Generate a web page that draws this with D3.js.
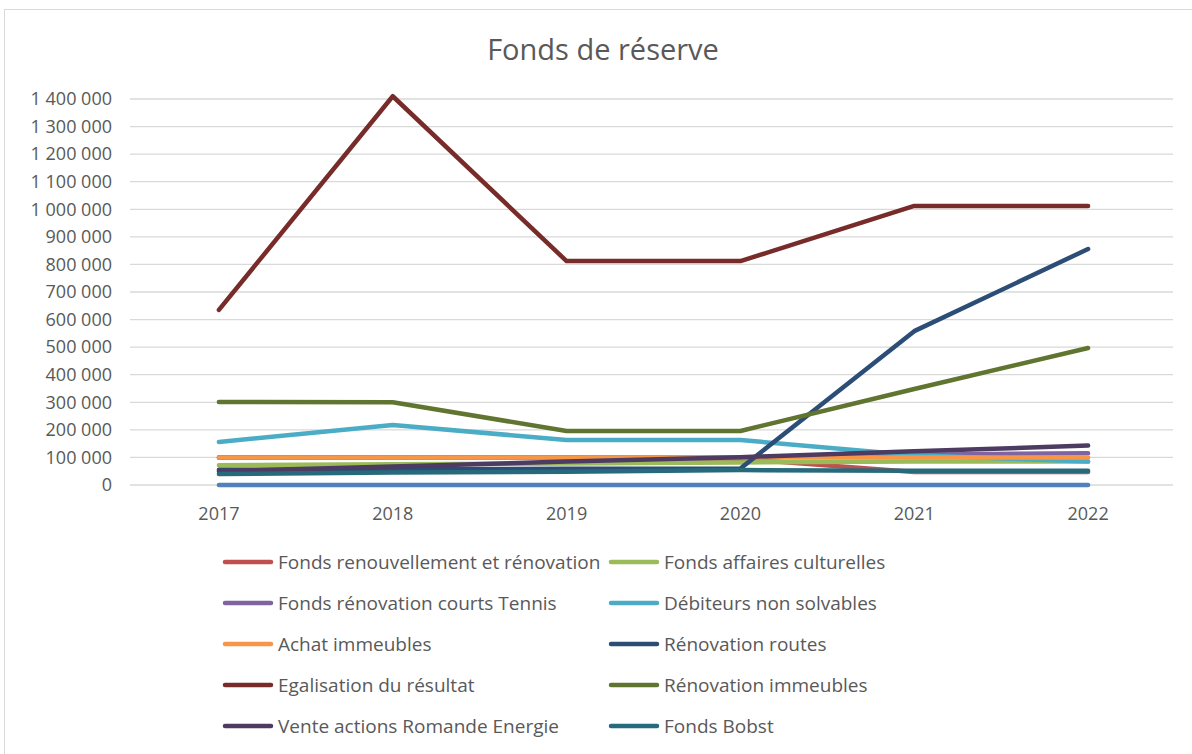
<!DOCTYPE html>
<html><head><meta charset="utf-8">
<script src="https://cdn.jsdelivr.net/npm/d3@7"></script>
<style>body{margin:0;background:#fff}svg{display:block}</style>
</head><body><svg id="c" width="1192" height="754"></svg>
<script>
const years = ["2017","2018","2019","2020","2021","2022"];
const yTicks = [0,100000,200000,300000,400000,500000,600000,700000,800000,900000,1000000,1100000,1200000,1300000,1400000];
const seriesNames = ["Fonds renouvellement et rénovation","Fonds affaires culturelles","Fonds rénovation courts Tennis","Débiteurs non solvables","Achat immeubles","Rénovation routes","Egalisation du résultat","Rénovation immeubles","Vente actions Romande Energie","Fonds Bobst","Série 11"];
const seriesColors = ["#C0504D","#9BBB59","#8064A2","#4BACC6","#F79646","#2C4D75","#772C2A","#5F7530","#4D3B62","#276A7C","#4F81BD"];
const vRenouvellement = [100000,100000,100000,95000,47000,47000];
const vCulturelles = [72000,75000,78000,82000,85000,85000];
const vTennis = [100000,100000,100000,100000,110000,115000];
const vDebiteurs = [156000,218000,163000,163000,108000,85000];
const vAchat = [100000,100000,100000,100000,100000,100000];
const vRoutes = [55000,57000,59000,60000,558000,856000];
const vEgalisation = [635000,1410000,812000,812000,1012000,1012000];
const vImmeubles = [301000,300000,196000,196000,348000,497000];
const vRomande = [50000,67000,85000,101000,122000,143000];
const vBobst = [40000,45000,48000,54000,52000,52000];
const vSerie11 = [0,0,0,0,0,0];
const allValues = [vRenouvellement,vCulturelles,vTennis,vDebiteurs,vAchat,vRoutes,vEgalisation,vImmeubles,vRomande,vBobst,vSerie11];
const legendCount = 10; // the reference legend shows the first ten series

const svg = d3.select("#c");
const font = "'Open Sans', sans-serif";
const txt = "#595959";

svg.append("rect").attr("x",4.5).attr("y",9.5).attr("width",1200).attr("height",800)
  .attr("fill","#fff").attr("stroke","#d9d9d9").attr("stroke-width",1);

svg.append("text").attr("x",603).attr("y",60).attr("text-anchor","middle")
  .attr("font-family",font).attr("font-size",29).attr("font-weight",400).attr("fill",txt)
  .text("Fonds de réserve");

const x = d3.scaleBand().domain(years).range([132,1175]);
const y = d3.scaleLinear().domain([0,1400000]).range([485,99]);

const fmt = v => d3.format(",")(v).replace(/,/g," ");

const grid = svg.append("g");
grid.selectAll("line").data(yTicks).join("line")
  .attr("x1",130).attr("x2",1173)
  .attr("y1",d=>y(d)).attr("y2",d=>y(d))
  .attr("stroke","#d9d9d9").attr("stroke-width",1.3);

const yAxis = svg.append("g").attr("transform","translate(130,0)")
  .call(d3.axisLeft(y).tickValues(yTicks).tickFormat(fmt).tickSize(0).tickPadding(18));
yAxis.select(".domain").remove();
yAxis.selectAll("text").attr("font-family",font).attr("font-size",18).attr("fill",txt);

const xAxis = svg.append("g").attr("transform","translate(0,485)")
  .call(d3.axisBottom(x).tickSize(0).tickPadding(22));
xAxis.select(".domain").remove();
xAxis.selectAll("text").attr("font-family",font).attr("font-size",18).attr("fill",txt);

const line = d3.line().x((d,i)=>x(years[i])+x.bandwidth()/2).y(d=>y(d));
svg.append("g").selectAll("path").data(allValues).join("path")
  .attr("d",d=>line(d)).attr("fill","none")
  .attr("stroke",(d,i)=>seriesColors[i]).attr("stroke-width",4.5)
  .attr("stroke-linecap","round").attr("stroke-linejoin","round");

const leg = svg.append("g");
seriesNames.slice(0,legendCount).forEach((n,i)=>{
  const col = i%2, row = Math.floor(i/2);
  const lx = col===0 ? 225 : 611;
  const ly = 562 + row*41;
  leg.append("line").attr("x1",lx).attr("x2",lx+46).attr("y1",ly).attr("y2",ly)
    .attr("stroke",seriesColors[i]).attr("stroke-width",4.5).attr("stroke-linecap","round");
  leg.append("text").attr("x",lx+53).attr("y",ly+7).attr("font-family",font)
    .attr("font-size",19).attr("fill",txt).text(n);
});
</script></body></html>
